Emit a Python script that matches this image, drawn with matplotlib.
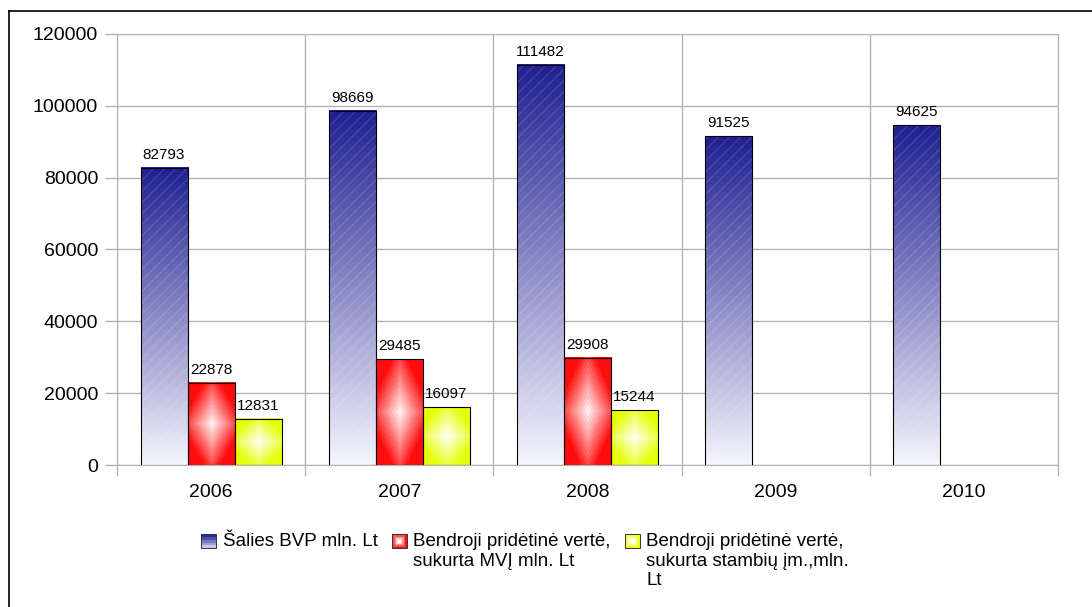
import numpy as np
import matplotlib
matplotlib.use("Agg")
import matplotlib.pyplot as plt
from matplotlib.patches import Rectangle
from matplotlib.lines import Line2D
from matplotlib.legend_handler import HandlerBase

plt.rcParams["font.family"] = ["Liberation Sans", "DejaVu Sans"]

# ───── duomenys ─────
years = ["2006", "2007", "2008", "2009", "2010"]
bvp = [82793, 98669, 111482, 91525, 94625]
mvi = [22878, 29485, 29908, None, None]
stambiu = [12831, 16097, 15244, None, None]
names = ["Šalies BVP mln. Lt",
         "Bendroji pridėtinė vertė,\nsukurta MVĮ mln. Lt",
         "Bendroji pridėtinė vertė,\nsukurta stambių įm.,mln.\nLt"]

GRID = "#b3b3b3"
BLUE_TOP = np.array([0.12, 0.12, 0.57])
BLUE_BOT = np.array([0.96, 0.96, 0.99])
RED = np.array([1.0, 0.05, 0.05])
YELLOW = np.array([0.90, 1.0, 0.05])
WHITE = np.array([1.0, 1.0, 1.0])


def linear_grad(top, bot, n=200):
    t = np.linspace(0, 1, n)[:, None]
    col = top * (1 - t) + bot * t
    return np.repeat(col[:, None, :], 2, axis=1)


def diamond_grad(edge, n=160, steps=12):
    yy, xx = np.mgrid[-1:1:n * 1j, -1:1:n * 1j]
    d = np.clip((np.abs(xx) + np.abs(yy)) / 1.4, 0, 1)
    d = np.ceil(d * steps) / steps
    return WHITE * (1 - d[..., None]) + edge * d[..., None]


class GradHandler(HandlerBase):
    """mažas gradientinis kvadratėlis legendai"""
    def __init__(self, colors, mode, shift=0.0):
        super().__init__()
        self.colors = colors
        self.mode = mode
        self.shift = shift

    def create_artists(self, legend, orig_handle, xdescent, ydescent,
                       width, height, fontsize, trans):
        arts = []
        n = len(self.colors)
        x0, y0 = -xdescent, -ydescent - self.shift * fontsize
        for i, c in enumerate(self.colors):
            if self.mode == "linear":
                r = Rectangle((x0, y0 + height * (n - 1 - i) / n), width, height / n,
                              facecolor=c, edgecolor="none", transform=trans)
            else:
                f = i / n * 0.5
                r = Rectangle((x0 + width * f, y0 + height * f),
                              width * (1 - 2 * f), height * (1 - 2 * f),
                              facecolor=c, edgecolor="none", transform=trans)
            arts.append(r)
        arts.append(Rectangle((x0, y0), width, height, facecolor="none",
                              edgecolor="#333333", lw=0.7, transform=trans))
        return arts


fig, ax = plt.subplots(figsize=(10.92, 6.07), dpi=100)
fig.subplots_adjust(left=117 / 1092, right=1058 / 1092,
                    top=1 - 34 / 607, bottom=1 - 465 / 607)

x = np.arange(len(years))
w = 0.25
blue_img = linear_grad(BLUE_TOP, BLUE_BOT)
red_img = diamond_grad(RED)
yel_img = diamond_grad(YELLOW)

handles = []
for vals, off, img, interp in [(bvp, -w, blue_img, "bilinear"),
                               (mvi, 0, red_img, "nearest"),
                               (stambiu, w, yel_img, "nearest")]:
    xs = [xi + off for xi, v in zip(x, vals) if v is not None]
    vs = [v for v in vals if v is not None]
    for xp, v in zip(xs, vs):
        ax.imshow(img, extent=(xp - w / 2, xp + w / 2, 0, v), aspect="auto",
                  interpolation=interp, zorder=2)
        ax.annotate(f"{v}", (xp, v), xytext=(0, 6.5), textcoords="offset points",
                    ha="center", va="baseline", fontsize=11)
    if img is blue_img:
        ax.bar(xs, vs, w, fill=False, hatch="///", edgecolor=(1, 1, 1, 0.13),
               linewidth=0, zorder=2.5)
    bc = ax.bar(xs, vs, w, facecolor="none", edgecolor="black", linewidth=0.8, zorder=3)
    handles.append(bc)

ax.set_xlim(-0.5, 4.5)
ax.set_ylim(0, 120000)
ax.set_yticks(np.arange(0, 120001, 20000))
ax.set_xticks(x)
ax.set_xticklabels(years)
ax.set_xticks(np.arange(-0.5, 5), minor=True)
ax.set_axisbelow(True)
ax.yaxis.grid(True, color=GRID, linewidth=1)
ax.xaxis.grid(True, which="minor", color=GRID, linewidth=1)
ax.tick_params(axis="x", which="major", length=0, pad=14, labelsize=14)
ax.tick_params(axis="x", which="minor", length=8, color=GRID, width=1)
ax.tick_params(axis="y", length=8.5, color=GRID, width=1, labelsize=14, pad=5)
for sp in ax.spines.values():
    sp.set_color(GRID)

hmap = {
    handles[0]: GradHandler(["#2c2c96", "#5050ac", "#7878c0", "#a0a0d4", "#c8c8e6"], "linear", 0.05),
    handles[1]: GradHandler(["#ff1010", "#ff5050", "#ff9090", "#ffd0d0", "#ffffff"], "box", 0.05),
    handles[2]: GradHandler(["#e8ff10", "#f0ff50", "#f6ff90", "#fbffd0", "#ffffff"], "box", 0.05),
}
leg = fig.legend(handles, names, handler_map=hmap, loc="upper left",
                 bbox_to_anchor=(201 / 1092, 1 - 533 / 607), ncol=3, frameon=False,
                 fontsize=13.5, handlelength=0.8, handleheight=0.8, handletextpad=0.35,
                 columnspacing=0.75, borderpad=0, borderaxespad=0, labelspacing=0)
# kvadratėlis prie pirmos eilutės, stulpeliai lygiuojami viršumi
leg._legend_handle_box.align = "top"
for col in leg._legend_handle_box.get_children():
    for row in col.get_children():
        row.align = "top"
for t in leg.get_texts():
    t.set_multialignment("left")

# išorinis rėmelis
fig.add_artist(Line2D([9 / 1092, 9 / 1092], [0, 1 - 11 / 607], color="black",
                      lw=1.2, transform=fig.transFigure))
fig.add_artist(Line2D([9 / 1092, 1], [1 - 11 / 607, 1 - 11 / 607], color="black",
                      lw=1.2, transform=fig.transFigure))

fig.savefig("out.png", dpi=100)
